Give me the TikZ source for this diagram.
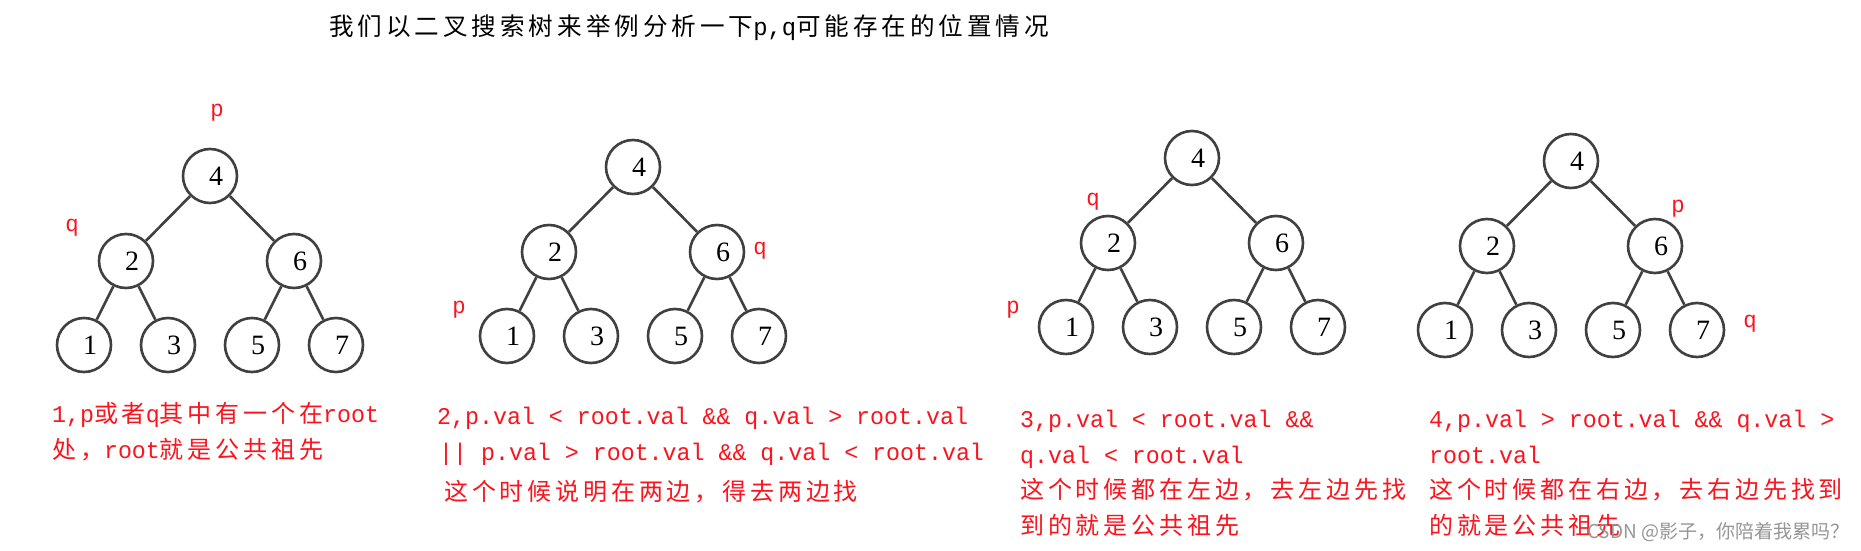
\documentclass[tikz,border=0pt]{standalone}
\usepackage{fontspec}
\setmainfont{Noto Sans CJK SC}[LetterSpace=16]
\newfontfamily\latf{Liberation Mono}[FakeStretch=0.97]
\newfontfamily\digf{Liberation Serif}
\newfontfamily\wmf{Noto Sans CJK SC}
\newcommand\ltn[1]{{\latf #1}}
\newcommand\dg[1]{\makebox[0pt]{\hspace{12pt}\raisebox{-3pt}{#1}}}
\definecolor{edgecol}{RGB}{64,64,64}
\definecolor{tred}{RGB}{250,20,30}
\definecolor{wmcol}{RGB}{150,150,150}
\tikzset{
  tn/.style={circle, draw=edgecol, line width=2.6pt, minimum size=54pt, inner sep=0pt,
    font=\digf\fontsize{28}{28}\selectfont},
  edge/.style={draw=edgecol, line width=2.6pt},
  lbl/.style={text=tred, font=\latf\fontsize{23}{23}\selectfont, inner sep=0pt},
  txt/.style={text=tred, font=\fontsize{24}{24}\selectfont, anchor=base west, inner sep=0pt},
  ttl/.style={text=black, font=\fontsize{24.6}{24.6}\selectfont, anchor=base west, inner sep=0pt},
  wm/.style={text=wmcol, font=\wmf\fontsize{19}{19}\selectfont, anchor=base west, inner sep=0pt}
}
\newcommand\bstree[3]{%
  \begin{scope}[shift={(#2,#3)}]
    \node[tn] (#1n4) at (0,0) {\dg{4}};
    \node[tn] (#1n2) at (-84,85) {\dg{2}};
    \node[tn] (#1n6) at (84,85) {\dg{6}};
    \node[tn] (#1n1) at (-126,169) {\dg{1}};
    \node[tn] (#1n3) at (-42,169) {\dg{3}};
    \node[tn] (#1n5) at (42,169) {\dg{5}};
    \node[tn] (#1n7) at (126,169) {\dg{7}};
    \draw[edge] (#1n4) -- (#1n2);
    \draw[edge] (#1n4) -- (#1n6);
    \draw[edge] (#1n2) -- (#1n1);
    \draw[edge] (#1n2) -- (#1n3);
    \draw[edge] (#1n6) -- (#1n5);
    \draw[edge] (#1n6) -- (#1n7);
  \end{scope}}
\begin{document}
\begin{tikzpicture}[x=1pt, y=-1pt]
  \fill[white] (0,0) rectangle (1861,551);
  \useasboundingbox (0,0) rectangle (1861,551);

  % title
  \node[ttl] (title) at (329,36) {我们以二叉搜索树来举例分析一下\ltn{p,q}可能存在的位置情况};

  % trees
  \bstree{ta}{210}{176}
  \bstree{tb}{633}{167}
  \bstree{tc}{1192}{158}
  \bstree{td}{1571}{161}

  % p / q labels
  \node[lbl] (ap) at (217,113) {p};
  \node[lbl] (aq) at (72,228) {q};
  \node[lbl] (bq) at (760,251) {q};
  \node[lbl] (bp) at (459,310) {p};
  \node[lbl] (cq) at (1093,202) {q};
  \node[lbl] (cp) at (1013,310) {p};
  \node[lbl] (dp) at (1678,209) {p};
  \node[lbl] (dq) at (1750,324) {q};

  % block 1
  \node[txt] (a1) at (52,422) {\ltn{1,p}或者\ltn{q}其中有一个在\ltn{root}};
  \node[txt] (a2) at (52,458) {处，\ltn{root}就是公共祖先};

  % block 2
  \node[txt] (b1) at (437,424) {\ltn{2,p.val < root.val \&\& q.val > root.val}};
  \node[txt] (b2) at (439,460) {\ltn{|| p.val > root.val \&\& q.val < root.val}};
  \node[txt] (b3) at (444,500) {这个时候说明在两边，得去两边找};

  % block 3
  \node[txt] (c1) at (1020,427) {\ltn{3,p.val < root.val \&\&}};
  \node[txt] (c2) at (1020,463) {\ltn{q.val < root.val}};
  \node[txt] (c3) at (1020,498) {这个时候都在左边，去左边先找};
  \node[txt] (c4) at (1020,534) {到的就是公共祖先};

  % block 4
  \node[txt] (d1) at (1429,427) {\ltn{4,p.val > root.val \&\& q.val >}};
  \node[txt] (d2) at (1429,463) {\ltn{root.val}};
  \node[txt] (d3) at (1429,498) {这个时候都在右边，去右边先找到};
  \node[txt] (d4) at (1429,534) {的就是公共祖先};

  % watermark (overlaps the last line, as in the reference)
  \node[wm] (wmk) at (1587,538) {CSDN @影子，你陪着我累吗？};
\end{tikzpicture}
\end{document}
